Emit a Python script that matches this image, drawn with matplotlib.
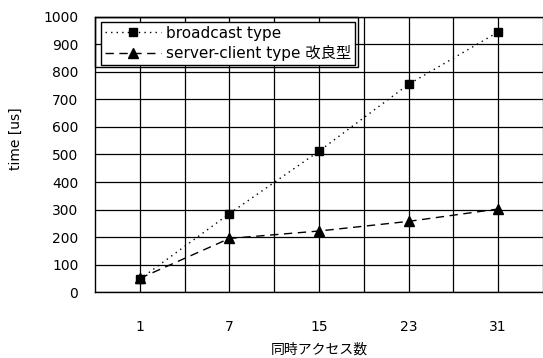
import matplotlib
matplotlib.use("Agg")
import matplotlib.pyplot as plt
from matplotlib.patches import Rectangle

plt.rcParams['font.family'] = ['DejaVu Sans', 'Noto Sans CJK JP']

categories = ["1", "7", "15", "23", "31"]
broadcast = [47, 285, 512, 755, 945]
server_client = [50, 195, 222, 257, 302]
y_ticks = [0, 100, 200, 300, 400, 500, 600, 700, 800, 900, 1000]

fig = plt.figure(figsize=(5.43, 3.58), dpi=100)
ax = fig.add_axes([0.175, 0.184, 0.825, 0.769])

x = list(range(1, len(categories) + 1))
ax.plot(x, broadcast, linestyle=(0, (1, 3)), color='black', lw=1.0,
        marker='s', markersize=6, label='broadcast type')
ax.plot(x, server_client, linestyle=(0, (6, 4)), color='black', lw=1.0,
        marker='^', markersize=7, label='server-client type 改良型')

ax.set_xlim(0.5, 5.5)
ax.set_ylim(0, 1000)
ax.set_yticks(y_ticks)
ax.set_xticks(x)
ax.set_xticklabels(categories)
ax.set_xticks([v + 0.5 for v in x], minor=True)
ax.grid(True, which='both', color='black', lw=0.9)
ax.set_axisbelow(True)
ax.tick_params(axis='both', which='both', length=0, labelsize=10)
ax.tick_params(axis='x', pad=20)
ax.tick_params(axis='y', pad=12)
for s in ['left', 'top', 'bottom']:
    ax.spines[s].set_color('black')
    ax.spines[s].set_linewidth(1.0)
ax.spines['right'].set_visible(False)

ax.set_xlabel('同時アクセス数', fontsize=10, labelpad=6)
ax.set_ylabel('time [us]', fontsize=10)
ax.yaxis.set_label_coords(-0.16, 0.556)

leg = ax.legend(loc='upper left', bbox_to_anchor=(0.013, 0.982), fontsize=11,
                frameon=True, fancybox=False, edgecolor='black', framealpha=1,
                handlelength=3.7, handletextpad=0.3, borderpad=0.25,
                labelspacing=0.3, borderaxespad=0)
leg.get_frame().set_linewidth(1.0)

fig.canvas.draw()
inv = fig.transFigure.inverted()
bb = leg.get_window_extent().transformed(inv)
ab = ax.get_position()
fig.patches.append(Rectangle((ab.x0, bb.y0 - 2 / 358), bb.x1 + 3 / 543 - ab.x0,
                             ab.y1 - (bb.y0 - 2 / 358),
                             transform=fig.transFigure, fill=False, edgecolor='black',
                             lw=1.0, zorder=10))

fig.savefig('out.png', dpi=100)
